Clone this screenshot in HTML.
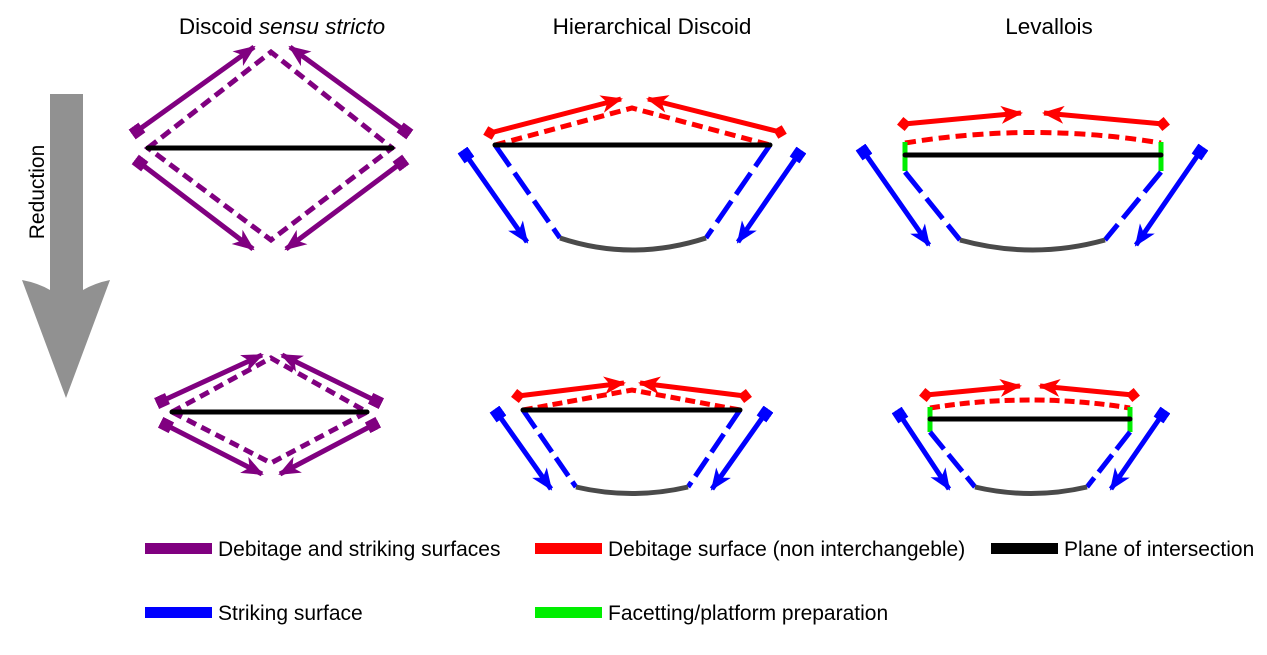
<!DOCTYPE html>
<html><head><meta charset="utf-8"><style>
html,body{margin:0;padding:0;background:#fff;}
svg{display:block;font-family:"Liberation Sans",Arial,sans-serif;}
</style></head><body>
<svg width="1267" height="655" viewBox="0 0 1267 655" xmlns="http://www.w3.org/2000/svg">
<defs>
<marker id="ap" markerUnits="userSpaceOnUse" markerWidth="30" markerHeight="30" refX="20" refY="10" orient="auto"><path d="M0,1 L22,10 L0,19 L6,10 Z" fill="#800080"/></marker>
<marker id="sp" markerUnits="userSpaceOnUse" markerWidth="20" markerHeight="20" refX="6" refY="6" orient="auto"><rect x="0" y="0" width="12" height="12" fill="#800080"/></marker>
<marker id="ar" markerUnits="userSpaceOnUse" markerWidth="30" markerHeight="30" refX="20" refY="10" orient="auto"><path d="M0,1 L22,10 L0,19 L6,10 Z" fill="#ff0000"/></marker>
<marker id="dr" markerUnits="userSpaceOnUse" markerWidth="20" markerHeight="20" refX="7" refY="7" orient="auto"><path d="M0,7 L7,0 L14,7 L7,14 Z" fill="#ff0000"/></marker>
<marker id="ab" markerUnits="userSpaceOnUse" markerWidth="30" markerHeight="30" refX="20" refY="10" orient="auto"><path d="M0,1 L22,10 L0,19 L6,10 Z" fill="#0000ff"/></marker>
<marker id="sb" markerUnits="userSpaceOnUse" markerWidth="20" markerHeight="20" refX="6" refY="6" orient="auto"><rect x="0" y="0" width="12" height="12" fill="#0000ff"/></marker>
</defs>

<text x="282" y="34" font-size="22.5" text-anchor="middle">Discoid <tspan font-style="italic">sensu stricto</tspan></text>
<text x="652" y="34" font-size="22.5" text-anchor="middle">Hierarchical Discoid</text>
<text x="1049" y="34" font-size="22.5" text-anchor="middle">Levallois</text>

<path d="M50,94 L83,94 L83,290 Q95,283 110,280 L66,398 L22,280 Q38,283 50,290 Z" fill="#919191"/>
<text transform="translate(44,192) rotate(-90)" font-size="21" text-anchor="middle">Reduction</text>

<g fill="none" stroke-width="5">
<path d="M148,148 L271,52 L392,148 L271,240 Z" stroke="#800080" stroke-dasharray="11,6"/>
<line x1="148" y1="148" x2="392" y2="148" stroke="#000" stroke-linecap="round"/>
<line x1="137" y1="131" x2="254" y2="47" stroke="#800080" marker-start="url(#sp)" marker-end="url(#ap)"/>
<line x1="405" y1="131" x2="290" y2="47" stroke="#800080" marker-start="url(#sp)" marker-end="url(#ap)"/>
<line x1="140" y1="163" x2="253" y2="249" stroke="#800080" marker-start="url(#sp)" marker-end="url(#ap)"/>
<line x1="401" y1="163" x2="286" y2="249" stroke="#800080" marker-start="url(#sp)" marker-end="url(#ap)"/>

<path d="M172,412 L271,358 L367,412 L271,463 Z" stroke="#800080" stroke-dasharray="10,6"/>
<line x1="172" y1="412" x2="367" y2="412" stroke="#000" stroke-linecap="round"/>
<line x1="162" y1="401" x2="262" y2="355" stroke="#800080" marker-start="url(#sp)" marker-end="url(#ap)"/>
<line x1="376" y1="401" x2="282" y2="355" stroke="#800080" marker-start="url(#sp)" marker-end="url(#ap)"/>
<line x1="166" y1="425" x2="262" y2="474" stroke="#800080" marker-start="url(#sp)" marker-end="url(#ap)"/>
<line x1="373" y1="425" x2="280" y2="474" stroke="#800080" marker-start="url(#sp)" marker-end="url(#ap)"/>

<path d="M495,145 L632,108 L770,145" stroke="#ff0000" stroke-dasharray="11,6"/>
<line x1="490" y1="133" x2="621" y2="99" stroke="#ff0000" marker-start="url(#dr)" marker-end="url(#ar)"/>
<line x1="780" y1="132" x2="648" y2="99" stroke="#ff0000" marker-start="url(#dr)" marker-end="url(#ar)"/>
<path d="M495,145 L560,238" stroke="#0000ff" stroke-dasharray="26,8"/>
<path d="M770,145 L706,238" stroke="#0000ff" stroke-dasharray="26,8"/>
<path d="M560,238 Q632,262 706,238" stroke="#4a4a4a"/>
<line x1="495" y1="145" x2="770" y2="145" stroke="#000" stroke-linecap="round"/>
<line x1="466" y1="155" x2="527" y2="242" stroke="#0000ff" marker-start="url(#sb)" marker-end="url(#ab)"/>
<line x1="798" y1="155" x2="738" y2="242" stroke="#0000ff" marker-start="url(#sb)" marker-end="url(#ab)"/>

<path d="M523,410 L632,390 L740,410" stroke="#ff0000" stroke-dasharray="10,5"/>
<line x1="518" y1="396" x2="624" y2="383" stroke="#ff0000" marker-start="url(#dr)" marker-end="url(#ar)"/>
<line x1="745" y1="396" x2="640" y2="383" stroke="#ff0000" marker-start="url(#dr)" marker-end="url(#ar)"/>
<path d="M523,410 L576,487" stroke="#0000ff" stroke-dasharray="22,7"/>
<path d="M740,410 L688,487" stroke="#0000ff" stroke-dasharray="22,7"/>
<path d="M576,487 Q632,500 688,487" stroke="#4a4a4a"/>
<line x1="523" y1="410" x2="740" y2="410" stroke="#000" stroke-linecap="round"/>
<line x1="498" y1="414" x2="551" y2="489" stroke="#0000ff" marker-start="url(#sb)" marker-end="url(#ab)"/>
<line x1="765" y1="414" x2="712" y2="489" stroke="#0000ff" marker-start="url(#sb)" marker-end="url(#ab)"/>

<path d="M905,143 Q1033,122 1161,143" stroke="#ff0000" stroke-dasharray="11,6"/>
<line x1="904" y1="124" x2="1021" y2="113" stroke="#ff0000" marker-start="url(#dr)" marker-end="url(#ar)"/>
<line x1="1163" y1="124" x2="1044" y2="113" stroke="#ff0000" marker-start="url(#dr)" marker-end="url(#ar)"/>
<line x1="905" y1="142" x2="905" y2="171" stroke="#00ee00"/>
<line x1="1161" y1="142" x2="1161" y2="171" stroke="#00ee00"/>
<path d="M905,172 L960,240" stroke="#0000ff" stroke-dasharray="26,8"/>
<path d="M1161,172 L1105,240" stroke="#0000ff" stroke-dasharray="26,8"/>
<path d="M960,240 Q1033,260 1105,240" stroke="#4a4a4a"/>
<line x1="905" y1="155" x2="1161" y2="155" stroke="#000" stroke-linecap="round"/>
<line x1="864" y1="152" x2="929" y2="245" stroke="#0000ff" marker-start="url(#sb)" marker-end="url(#ab)"/>
<line x1="1200" y1="152" x2="1136" y2="245" stroke="#0000ff" marker-start="url(#sb)" marker-end="url(#ab)"/>

<path d="M930,408 Q1030,392 1130,408" stroke="#ff0000" stroke-dasharray="10,5"/>
<line x1="926" y1="395" x2="1020" y2="386" stroke="#ff0000" marker-start="url(#dr)" marker-end="url(#ar)"/>
<line x1="1133" y1="395" x2="1040" y2="386" stroke="#ff0000" marker-start="url(#dr)" marker-end="url(#ar)"/>
<line x1="930" y1="407" x2="930" y2="432" stroke="#00ee00"/>
<line x1="1130" y1="407" x2="1130" y2="432" stroke="#00ee00"/>
<path d="M930,432 L975,487" stroke="#0000ff" stroke-dasharray="22,7"/>
<path d="M1130,432 L1087,487" stroke="#0000ff" stroke-dasharray="22,7"/>
<path d="M975,487 Q1031,500 1087,487" stroke="#4a4a4a"/>
<line x1="930" y1="419" x2="1130" y2="419" stroke="#000" stroke-linecap="round"/>
<line x1="900" y1="415" x2="949" y2="489" stroke="#0000ff" marker-start="url(#sb)" marker-end="url(#ab)"/>
<line x1="1162" y1="415" x2="1111" y2="489" stroke="#0000ff" marker-start="url(#sb)" marker-end="url(#ab)"/>
</g>

<rect x="145" y="543" width="67" height="11" fill="#800080"/>
<text x="218" y="556" font-size="21">Debitage and striking surfaces</text>
<rect x="535" y="543" width="67" height="11" fill="#ff0000"/>
<text x="608" y="556" font-size="21">Debitage surface (non interchangeble)</text>
<rect x="991" y="543" width="67" height="11" fill="#000"/>
<text x="1064" y="556" font-size="21">Plane of intersection</text>
<rect x="145" y="607" width="67" height="11" fill="#0000ff"/>
<text x="218" y="620" font-size="21">Striking surface</text>
<rect x="535" y="607" width="67" height="11" fill="#00ee00"/>
<text x="608" y="620" font-size="21">Facetting/platform preparation</text>
</svg>
</body></html>
